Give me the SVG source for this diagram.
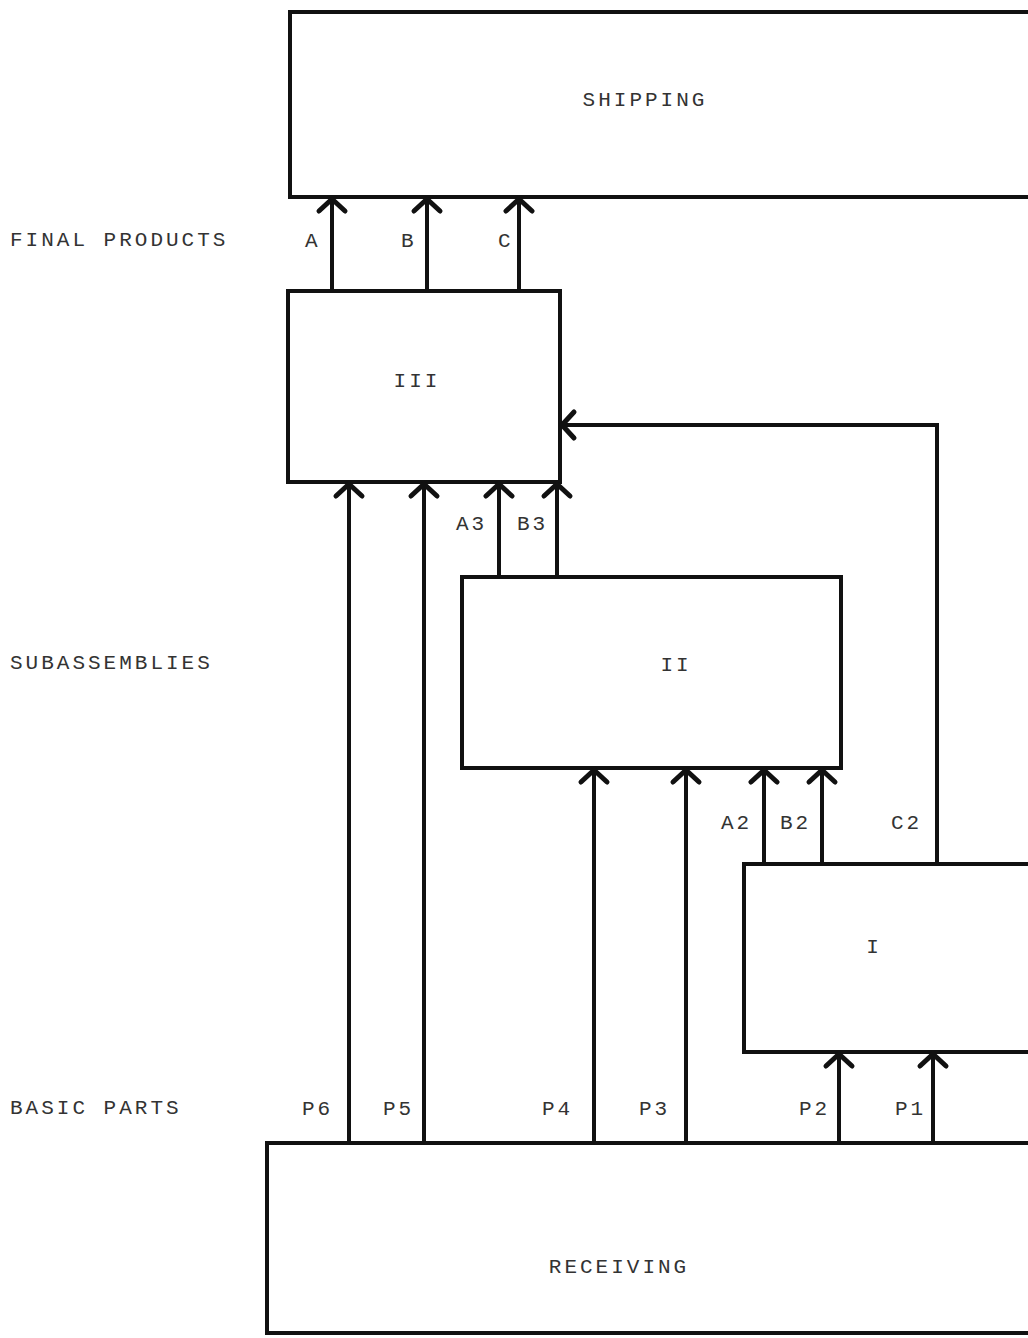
<svg xmlns="http://www.w3.org/2000/svg" width="1028" height="1338" viewBox="0 0 1028 1338">
<style>
.box{fill:#fff;stroke:#111;stroke-width:4}
.ln{fill:none;stroke:#111;stroke-width:4}
.t{font-family:"Liberation Mono","DejaVu Sans Mono",monospace;font-size:21px;fill:#333;letter-spacing:3px}
.m{text-anchor:middle}
</style>
<defs>
<marker id="ah" markerUnits="userSpaceOnUse" markerWidth="40" markerHeight="40" viewBox="-20 -20 40 40" refX="0" refY="0" orient="auto">
<path d="M-12,-13 L0,0 L-12,13" fill="none" stroke="#111" stroke-width="5" stroke-linecap="round" stroke-linejoin="round"/>
</marker>
</defs>
<g id="shipping"><rect class="box" x="290" y="12" width="760" height="185"/><text class="t m" x="645" y="106">SHIPPING</text></g>
<g id="iii"><rect class="box" x="288" y="291" width="272" height="191"/><text class="t m" x="417" y="387">III</text></g>
<g id="ii"><rect class="box" x="462" y="577" width="379" height="191"/><text class="t m" x="676" y="671">II</text></g>
<g id="i"><rect class="box" x="744" y="864" width="320" height="188"/><text class="t m" x="874" y="953">I</text></g>
<g id="receiving"><rect class="box" x="267" y="1143" width="800" height="190"/><text class="t m" x="619" y="1273">RECEIVING</text></g>
<g id="labels">
<text class="t" x="10" y="246">FINAL PRODUCTS</text>
<text class="t" x="10" y="669">SUBASSEMBLIES</text>
<text class="t" x="10" y="1114">BASIC PARTS</text>
</g>
<g id="connectors">
<line class="ln" x1="332" y1="291" x2="332" y2="199" marker-end="url(#ah)"/>
<line class="ln" x1="427" y1="291" x2="427" y2="199" marker-end="url(#ah)"/>
<line class="ln" x1="519" y1="291" x2="519" y2="199" marker-end="url(#ah)"/>
<line class="ln" x1="349" y1="1143" x2="349" y2="484" marker-end="url(#ah)"/>
<line class="ln" x1="424" y1="1143" x2="424" y2="484" marker-end="url(#ah)"/>
<line class="ln" x1="499" y1="577" x2="499" y2="484" marker-end="url(#ah)"/>
<line class="ln" x1="557" y1="577" x2="557" y2="484" marker-end="url(#ah)"/>
<polyline class="ln" points="937,864 937,425 562,425" marker-end="url(#ah)"/>
<line class="ln" x1="594" y1="1143" x2="594" y2="770" marker-end="url(#ah)"/>
<line class="ln" x1="686" y1="1143" x2="686" y2="770" marker-end="url(#ah)"/>
<line class="ln" x1="764" y1="864" x2="764" y2="770" marker-end="url(#ah)"/>
<line class="ln" x1="822" y1="864" x2="822" y2="770" marker-end="url(#ah)"/>
<line class="ln" x1="839" y1="1143" x2="839" y2="1054" marker-end="url(#ah)"/>
<line class="ln" x1="933" y1="1143" x2="933" y2="1054" marker-end="url(#ah)"/>
<text class="t" x="305" y="247">A</text>
<text class="t" x="401" y="247">B</text>
<text class="t" x="498" y="247">C</text>
<text class="t" x="456" y="530">A3</text>
<text class="t" x="517" y="530">B3</text>
<text class="t" x="721" y="829">A2</text>
<text class="t" x="780" y="829">B2</text>
<text class="t" x="891" y="829">C2</text>
<text class="t" x="302" y="1115">P6</text>
<text class="t" x="383" y="1115">P5</text>
<text class="t" x="542" y="1115">P4</text>
<text class="t" x="639" y="1115">P3</text>
<text class="t" x="799" y="1115">P2</text>
<text class="t" x="895" y="1115">P1</text>
</g>
</svg>
